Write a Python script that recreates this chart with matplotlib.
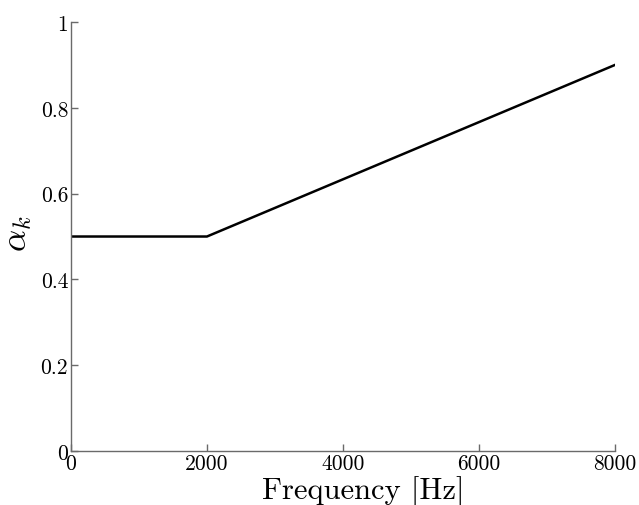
import matplotlib
matplotlib.use("Agg")
import matplotlib.pyplot as plt

plt.rcParams['font.family'] = ['cmr10']
plt.rcParams['mathtext.fontset'] = 'cm'
plt.rcParams['axes.formatter.use_mathtext'] = True

# piecewise-linear weighting over frequency
freq = [0, 2000, 8000]
alpha = [0.5, 0.5, 0.9]
xticks = [0, 2000, 4000, 6000, 8000]
yticks = [0, 0.2, 0.4, 0.6, 0.8, 1]

fig = plt.figure(figsize=(6.39, 5.06), dpi=100)
ax = fig.add_axes([0.111, 0.1067, 0.8514, 0.8478])

ax.plot(freq, alpha, '-', color='black', lw=1.8)

ax.set_xlim(0, 8000)
ax.set_ylim(0, 1)
ax.set_xticks(xticks)
ax.set_xticklabels([str(t) for t in xticks])
ax.set_yticks(yticks)
ax.set_yticklabels(['0', '0.2', '0.4', '0.6', '0.8', '1'])

for side in ['top', 'right']:
    ax.spines[side].set_visible(False)
for side in ['left', 'bottom']:
    ax.spines[side].set_color('#6a6a6a')
    ax.spines[side].set_linewidth(1.0)

ax.tick_params(direction='in', length=5, width=1, color='#6a6a6a',
               labelsize=15.5, labelcolor='black', pad=2)

ax.set_xlabel('Frequency [Hz]', fontsize=22)
ax.xaxis.set_label_coords(0.537, -0.056)
ax.set_ylabel(r'$\alpha_k$', fontsize=25)
ax.yaxis.set_label_coords(-0.068, 0.51)

fig.savefig('out.png', dpi=100)
